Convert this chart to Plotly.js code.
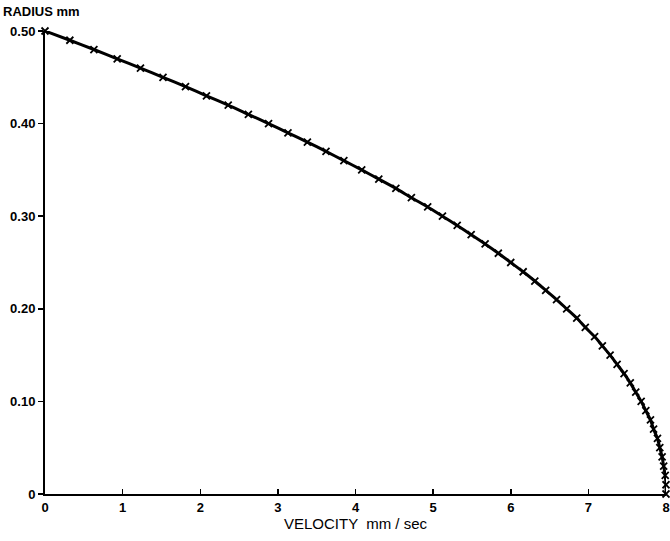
<!DOCTYPE html>
<html><head><meta charset="utf-8">
<script src="https://cdn.plot.ly/plotly-3.0.1.min.js"></script>
<style>html,body{margin:0;padding:0;background:#fff}#c{width:670px;height:541px}</style>
</head><body><div id="c"></div>
<script>
const radius = [0.50,0.49,0.48,0.47,0.46,0.45,0.44,0.43,0.42,0.41,0.40,0.39,0.38,0.37,0.36,0.35,0.34,0.33,0.32,0.31,0.30,0.29,0.28,0.27,0.26,0.25,0.24,0.23,0.22,0.21,0.20,0.19,0.18,0.17,0.16,0.15,0.14,0.13,0.12,0.11,0.10,0.09,0.08,0.07,0.06,0.05,0.04,0.03,0.02,0.01,0.00];
const velocity = [0.00,0.32,0.63,0.93,1.23,1.52,1.81,2.08,2.36,2.62,2.88,3.13,3.38,3.62,3.85,4.08,4.30,4.52,4.72,4.93,5.12,5.31,5.49,5.67,5.84,6.00,6.16,6.31,6.45,6.59,6.72,6.85,6.96,7.08,7.18,7.28,7.37,7.46,7.54,7.61,7.68,7.74,7.80,7.84,7.89,7.92,7.95,7.97,7.99,8.00,8.00];
const xTicks = [0,1,2,3,4,5,6,7,8];
const xTickText = ['0','1','2','3','4','5','6','7','8'];
const yTicks = [0,0.1,0.2,0.3,0.4,0.5];
const yTickText = ['0','0.10','0.20','0.30','0.40','0.50'];

const trace = {
  x: velocity, y: radius, type: 'scatter', mode: 'lines+markers',
  line: {color: '#000', width: 3, shape: 'spline', smoothing: 0.6},
  marker: {symbol: 'x-thin-open', size: 7, color: '#000', line: {color: '#000', width: 1.8}},
  cliponaxis: false, hoverinfo: 'skip'
};
const tickFont = {family: 'Liberation Sans, Arial, sans-serif', size: 13, color: '#000', weight: 'bold'};
const layout = {
  width: 670, height: 541,
  margin: {l: 45, r: 4, t: 31, b: 47},
  paper_bgcolor: '#fff', plot_bgcolor: '#fff',
  showlegend: false,
  xaxis: {
    range: [0, 8], tickvals: xTicks, ticktext: xTickText,
    showgrid: false, zeroline: false, showline: true, linecolor: '#000', linewidth: 2,
    ticks: 'inside', ticklen: 5, tickwidth: 1.5, tickcolor: '#000',
    tickfont: tickFont, fixedrange: true,
    title: {text: 'VELOCITY  mm / sec', font: {family: 'Liberation Sans, Arial, sans-serif', size: 15, color: '#000'}, standoff: 3}
  },
  yaxis: {
    range: [0, 0.5], tickvals: yTicks, ticktext: yTickText,
    showgrid: false, zeroline: false, showline: true, linecolor: '#000', linewidth: 2,
    ticks: 'outside', ticklen: 5, tickwidth: 1.5, tickcolor: '#000',
    tickfont: tickFont, fixedrange: true
  },
  annotations: [{
    text: 'RADIUS mm', xref: 'paper', yref: 'paper', x: 0, y: 1, xanchor: 'left', yanchor: 'bottom',
    xshift: -44, yshift: 10, showarrow: false,
    font: {family: 'Liberation Sans, Arial, sans-serif', size: 13, color: '#000', weight: 'bold'}
  }]
};
Plotly.newPlot('c', [trace], layout, {displayModeBar: false, staticPlot: true});
</script></body></html>
